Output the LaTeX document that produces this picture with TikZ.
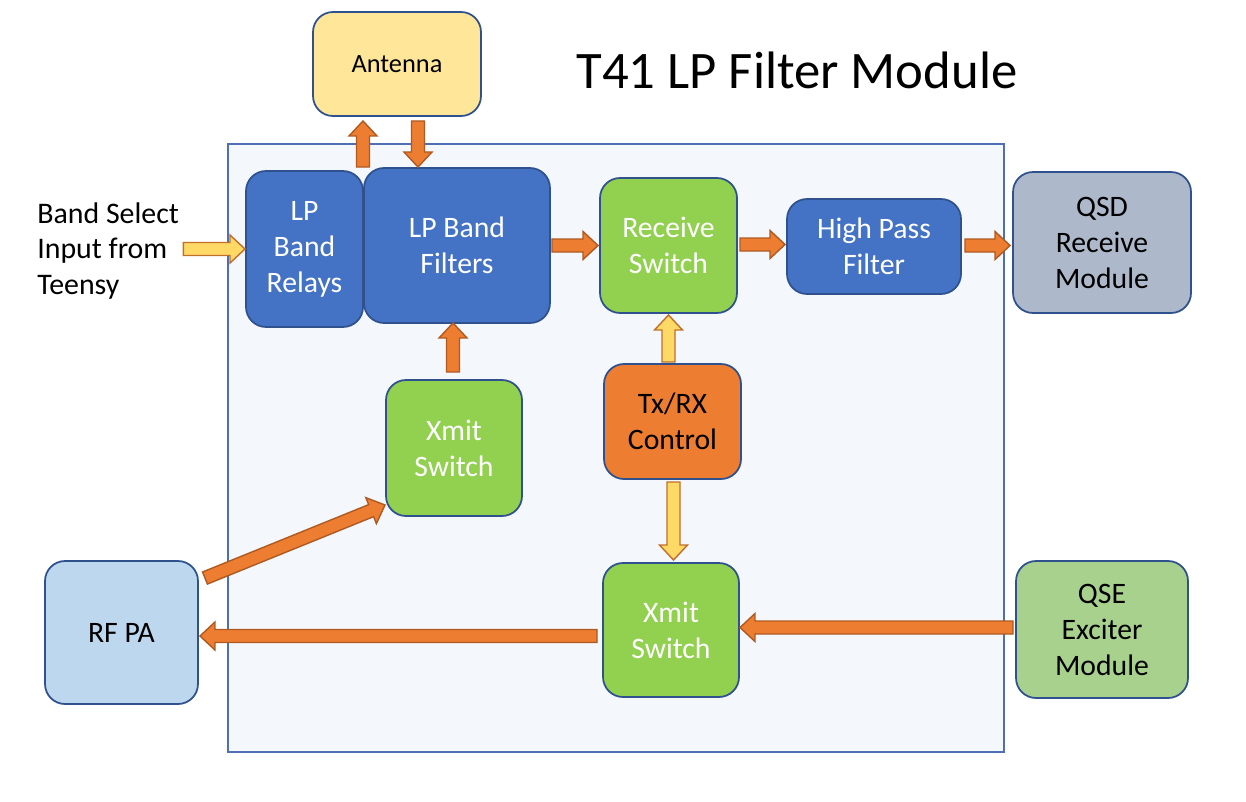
\documentclass[tikz,border=0pt]{standalone}
\usepackage{fontspec}
\setmainfont{Carlito}
\usetikzlibrary{calc}
\definecolor{boxline}{HTML}{2F528F}
\definecolor{frameline}{HTML}{4F6FB5}
\definecolor{framefill}{HTML}{F4F7FC}
\definecolor{cblue}{HTML}{4472C4}
\definecolor{cgreen}{HTML}{92D050}
\definecolor{corange}{HTML}{ED7D31}
\definecolor{corangeline}{HTML}{AE5A21}
\definecolor{cyellow}{HTML}{FFD966}
\definecolor{cyellowline}{HTML}{C0702A}
\definecolor{cant}{HTML}{FFE699}
\definecolor{cqsd}{HTML}{ADB9CA}
\definecolor{crfpa}{HTML}{BDD7EE}
\definecolor{cqse}{HTML}{A9D18E}
\def\asw{0.13cm}
\def\ahw{0.28cm}
\def\ahl{0.30cm}
\tikzset{
  box/.style={draw=boxline, line width=1pt, rounded corners=0.4cm, inner sep=0pt, outer sep=0pt, align=center, font=\fontsize{16.9}{20.5}\selectfont},
  bluebox/.style={box, fill=cblue, text=white},
  greenbox/.style={box, fill=cgreen, text=white},
  barrow/.style={to path={
    let \p1=(\tikztostart), \p2=(\tikztotarget), \p3=($(\p2)!\ahl!(\p1)$) in
    ($(\p1)!\asw!90:(\p2)$) -- ($(\p3)!\asw!-90:(\p1)$) -- ($(\p3)!\ahw!-90:(\p1)$) -- (\p2) -- ($(\p3)!\ahw!90:(\p1)$) -- ($(\p3)!\asw!90:(\p1)$) -- ($(\p1)!\asw!-90:(\p2)$) -- cycle
  }},
  oarrow/.style={fill=corange, draw=corangeline, line width=0.8pt},
  yarrow/.style={fill=cyellow, draw=cyellowline, line width=0.8pt}
}
\begin{document}
\begin{tikzpicture}[x=0.02cm, y=-0.02cm]
\useasboundingbox (0,0) rectangle (1246,801);
\fill[white] (0,0) rectangle (1246,801);
% frame
\draw[frameline, fill=framefill, line width=1pt] (228,144) rectangle (1004,752);
% title
\node (title) at (797,70) {\fontsize{30}{36}\selectfont T41 LP Filter Module};
% nodes
\node[box, fill=cant, minimum width=3.36cm, minimum height=2.08cm, font=\fontsize{15}{18}\selectfont] (ant) at (397,64) {Antenna};
\node[bluebox, minimum width=2.34cm, minimum height=3.12cm] (rel) at (304.5,249) {LP\\Band\\Relays};
\node[bluebox, minimum width=3.72cm, minimum height=3.10cm] (lpf) at (457,245.5) {LP Band\\Filters};
\node[greenbox, minimum width=2.74cm, minimum height=2.70cm] (rx) at (668.5,245.5) {Receive\\Switch};
\node[bluebox, minimum width=3.48cm, minimum height=1.90cm] (hpf) at (874,246.5) {High Pass\\Filter};
\node[box, fill=cqsd, minimum width=3.56cm, minimum height=2.82cm] (qsd) at (1102,242.5) {QSD\\Receive\\Module};
\node[greenbox, minimum width=2.72cm, minimum height=2.72cm] (xm1) at (454,448) {Xmit\\Switch};
\node[box, fill=corange, minimum width=2.74cm, minimum height=2.30cm] (trx) at (672.5,421.5) {Tx/RX\\Control};
\node[greenbox, minimum width=2.72cm, minimum height=2.68cm] (xm2) at (671,630) {Xmit\\Switch};
\node[box, fill=crfpa, minimum width=3.06cm, minimum height=2.86cm] (rfpa) at (121.5,632.5) {RF PA};
\node[box, fill=cqse, minimum width=3.44cm, minimum height=2.74cm] (qse) at (1102,629.5) {QSE\\Exciter\\Module};
\node[anchor=west, align=left, inner sep=0pt, font=\fontsize{17}{20.4}\selectfont] (bs) at (37,251) {Band Select\\Input from\\Teensy};
% arrows
\coordinate (a1s) at ($(bs.east |- rel.west)+(4,0)$);
\draw[yarrow] (a1s) to[barrow] ($(rel.west)+(-1,0)$);
\coordinate (a2s) at ($(rel.north east)+(0,-4)$);
\draw[oarrow] (a2s) to[barrow] ($(a2s |- ant.south)+(0,5)$);
\coordinate (a3s) at ($(ant.south)+(21,5)$);
\draw[oarrow] (a3s) to[barrow] ($(a3s |- lpf.north)+(0,-1)$);
\coordinate (a4s) at ($(lpf.east)+(2,0)$);
\draw[oarrow] (a4s) to[barrow] ($(a4s -| rx.west)+(-2,0)$);
\coordinate (a5s) at ($(rx.east)+(3,-1)$);
\draw[oarrow] (a5s) to[barrow] ($(a5s -| hpf.west)+(-2,0)$);
\coordinate (a6s) at ($(hpf.east)+(4,-1)$);
\draw[oarrow] (a6s) to[barrow] ($(a6s -| qsd.west)+(-3,0)$);
\coordinate (a7s) at ($(xm1.north)+(-1,-8)$);
\draw[oarrow] (a7s) to[barrow] ($(a7s |- lpf.south)+(0,0)$);
\coordinate (a8s) at ($(rx.south |- trx.north)+(0,-2)$);
\draw[yarrow] (a8s) to[barrow] ($(rx.south)+(0,2)$);
\coordinate (a9s) at ($(trx.south)+(1,3)$);
\draw[yarrow] (a9s) to[barrow] ($(a9s |- xm2.north)+(0,-3)$);
\coordinate (a10s) at ($(qse.west)+(-3,-2)$);
\draw[oarrow] (a10s) to[barrow] ($(a10s -| xm2.east)+(1,0)$);
\coordinate (a11s) at ($(xm2.west)+(-6,6)$);
\draw[oarrow] (a11s) to[barrow] ($(a11s -| rfpa.east)+(2,0)$);
\coordinate (a12s) at ($(rfpa.north east)+(7,17)$);
\draw[oarrow] (a12s) to[barrow] ($(xm1.south west)+(-1,-11)$);
\end{tikzpicture}
\end{document}
